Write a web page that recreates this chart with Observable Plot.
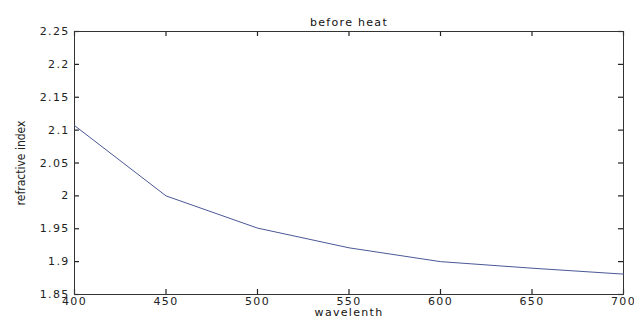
<!DOCTYPE html>
<html>
<head>
<meta charset="utf-8">
<script src="https://cdn.jsdelivr.net/npm/d3@7"></script>
<script src="https://cdn.jsdelivr.net/npm/@observablehq/plot@0.6"></script>
<style>
  html, body { margin: 0; padding: 0; background: #fff; }
  svg text { letter-spacing: 1.3px; }
  svg g[aria-label="y-axis label"] text { letter-spacing: 0; }
</style>
</head>
<body>
<div id="chart"></div>
<script>
const wavelength = [400, 450, 500, 550, 600, 650, 700];
const refractiveIndex = [2.107, 2.0, 1.951, 1.921, 1.900, 1.890, 1.881];
const xTicks = [400, 450, 500, 550, 600, 650, 700];
const yTicks = [1.85, 1.9, 1.95, 2, 2.05, 2.1, 2.15, 2.2, 2.25];
const title = "before heat";
const xLabel = "wavelenth";
const xUnit = "nm";
const yLabel = "refractive index";

const data = wavelength.map((w, i) => ({w, n: refractiveIndex[i]}));
const fmt = d => String(+d.toFixed(2));
const axisColor = "#222";

const W = 634, H = 329, mL = 74, mR = 11, mT = 31, mB = 35;
const innerW = W - mL - mR, innerH = H - mT - mB, tick = 5;

const chart = Plot.plot({
  width: W,
  height: H,
  marginLeft: mL,
  marginRight: mR,
  marginTop: mT,
  marginBottom: mB,
  style: {fontFamily: "'DejaVu Sans', sans-serif", fontSize: "11px", color: "#222", background: "#fff"},
  x: {domain: [400, 700]},
  y: {domain: [1.85, 2.25]},
  marks: [
    // inward ticks (MATLAB style) on all four sides
    Plot.tickX(xTicks, {x: d => d, insetTop: innerH - tick, stroke: axisColor, strokeWidth: 1.2}),
    Plot.tickX(xTicks, {x: d => d, insetBottom: innerH - tick, stroke: axisColor, strokeWidth: 1.2}),
    Plot.tickY(yTicks, {y: d => d, insetRight: innerW - tick, stroke: axisColor, strokeWidth: 1.2}),
    Plot.tickY(yTicks, {y: d => d, insetLeft: innerW - tick, stroke: axisColor, strokeWidth: 1.2}),
    Plot.frame({stroke: "#333", strokeWidth: 1}),
    // tick labels
    Plot.axisX({anchor: "bottom", ticks: xTicks, tickSize: 0, tickPadding: 3, tickFormat: fmt, label: null}),
    Plot.axisY({anchor: "left", ticks: yTicks, tickSize: 0, tickPadding: 5, tickFormat: fmt, label: null}),
    // y axis title
    Plot.axisY({anchor: "left", ticks: [], tickSize: 0, label: yLabel, labelAnchor: "center", labelOffset: 58, labelArrow: "none",
      fontFamily: "'DejaVu Sans Condensed', 'Liberation Sans Narrow', sans-serif", fontSize: 12}),
    // series
    Plot.line(data, {x: "w", y: "n", stroke: "#4a5896", strokeWidth: 1}),
    // title and x labels
    Plot.text([title], {frameAnchor: "top", dy: -13, fontSize: 11, fill: "#111"}),
    Plot.text([xLabel], {frameAnchor: "bottom", dy: 21, fontSize: 11, fill: "#111"}),
    Plot.text([xUnit], {frameAnchor: "bottom", dy: 40, fontSize: 11, fill: "#111"})
  ]
});
document.getElementById("chart").appendChild(chart);
</script>
</body>
</html>
